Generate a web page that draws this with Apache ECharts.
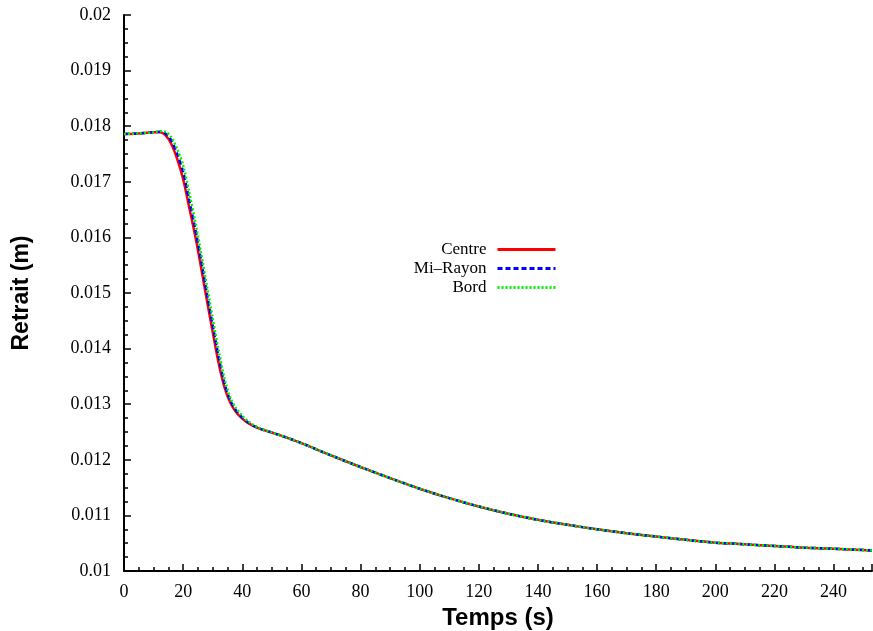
<!DOCTYPE html>
<html>
<head>
<meta charset="utf-8">
<script src="https://cdn.jsdelivr.net/npm/echarts@6/dist/echarts.min.js"></script>
<style>html,body{margin:0;padding:0;background:#fff}#c{width:873px;height:631px}</style>
</head>
<body>
<div id="c"></div>
<script>
const temps = [0,5,10,12,14,16,18,20,22,24,26,28,30,32,34,36,38,40,42,45,50,55,60,70,80,90,100,110,120,130,140,150,160,170,180,190,200,210,220,230,240,253];
const centre = [0.01786,0.01787,0.01789,0.01789,0.01784,0.01768,0.01741,0.01705,0.01655,0.01605,0.01548,0.01488,0.01430,0.01374,0.01330,0.01302,0.01285,0.01274,0.01266,0.01258,0.01249,0.01240,0.01230,0.01208,0.01187,0.01167,0.01148,0.01131,0.01116,0.01103,0.01092,0.01083,0.01075,0.01068,0.01062,0.01056,0.01051,0.01048,0.01045,0.01042,0.01040,0.01037];
const miRayon = [0.01786,0.01787,0.01789,0.01790,0.01787,0.01774,0.01750,0.01718,0.01668,0.01618,0.01561,0.01500,0.01442,0.01385,0.01337,0.01306,0.01288,0.01276,0.01267,0.01258,0.01249,0.01240,0.01230,0.01208,0.01187,0.01167,0.01148,0.01131,0.01116,0.01103,0.01092,0.01083,0.01075,0.01068,0.01062,0.01056,0.01051,0.01048,0.01045,0.01042,0.01040,0.01037];
const bord = [0.01786,0.01787,0.01789,0.01791,0.01790,0.01780,0.01759,0.01730,0.01682,0.01631,0.01574,0.01514,0.01455,0.01397,0.01346,0.01311,0.01292,0.01279,0.01269,0.01259,0.01249,0.01240,0.01230,0.01208,0.01187,0.01167,0.01148,0.01131,0.01116,0.01103,0.01092,0.01083,0.01075,0.01068,0.01062,0.01056,0.01051,0.01048,0.01045,0.01042,0.01040,0.01037];
const seriesNames = ['Centre','Mi–Rayon','Bord'];
const xTicks = [0,20,40,60,80,100,120,140,160,180,200,220,240];

const pair = arr => temps.map((t,i)=>[t,arr[i]]);
const chart = echarts.init(document.getElementById('c'), null, {renderer:'canvas'});
const serif = '"Liberation Serif","DejaVu Serif",serif';
const sans = '"Liberation Sans",Arial,sans-serif';
chart.setOption({
  animation:false,
  backgroundColor:'#fff',
  grid:{left:124,right:1,top:15,bottom:60,containLabel:false,outerBoundsMode:'none'},
  legend:{
    orient:'vertical', right:311, top:236, align:'right',
    itemWidth:58, itemHeight:16, itemGap:2,
    itemStyle:{opacity:0},
    lineStyle:{width:3},
    textStyle:{fontFamily:serif,fontSize:17,color:'#000',lineHeight:16,padding:[0,6,0,0]},
    data:seriesNames
  },
  xAxis:{
    type:'value', min:0, max:253, interval:20,
    name:'Temps (s)', nameLocation:'middle', nameGap:30,
    nameTextStyle:{fontFamily:sans,fontWeight:'bold',fontSize:24,color:'#000'},
    axisLine:{show:true,onZero:false,lineStyle:{color:'#000',width:2}},
    axisTick:{show:true,inside:true,length:7,lineStyle:{color:'#000',width:1.5}},
    minorTick:{show:true,splitNumber:4,length:4,lineStyle:{color:'#000',width:1.5}},
    splitLine:{show:false},
    axisLabel:{fontFamily:serif,fontSize:18,color:'#000',margin:12,
      formatter:v=>xTicks.indexOf(Math.round(v))>=0 && Math.abs(v-Math.round(v))<1e-6 ? String(Math.round(v)) : ''}
  },
  yAxis:{
    type:'value', min:0.01, max:0.02, interval:0.001,
    name:'Retrait (m)', nameLocation:'middle', nameGap:91, nameRotate:90,
    nameTextStyle:{fontFamily:sans,fontWeight:'bold',fontSize:23,color:'#000'},
    axisLine:{show:true,onZero:false,lineStyle:{color:'#000',width:2}},
    axisTick:{show:true,inside:true,length:7,lineStyle:{color:'#000',width:1.5}},
    minorTick:{show:true,splitNumber:4,length:4,lineStyle:{color:'#000',width:1.5}},
    splitLine:{show:false},
    axisLabel:{fontFamily:serif,fontSize:18,color:'#000',margin:13,
      formatter:v=>String(parseFloat(v.toFixed(3)))}
  },
  series:[
    {name:seriesNames[0],type:'line',data:pair(centre),symbol:'none',smooth:0.3,
      lineStyle:{color:'#ff0000',width:2.5,type:'solid'},itemStyle:{color:'#ff0000'}},
    {name:seriesNames[1],type:'line',data:pair(miRayon),symbol:'none',smooth:0.3,
      lineStyle:{color:'#0000ff',width:2.5,type:[5,3]},itemStyle:{color:'#0000ff'}},
    {name:seriesNames[2],type:'line',data:pair(bord),symbol:'none',smooth:0.3,
      lineStyle:{color:'#00ee00',width:2.5,type:[2,2]},itemStyle:{color:'#00ee00'}}
  ]
});
</script>
</body>
</html>
